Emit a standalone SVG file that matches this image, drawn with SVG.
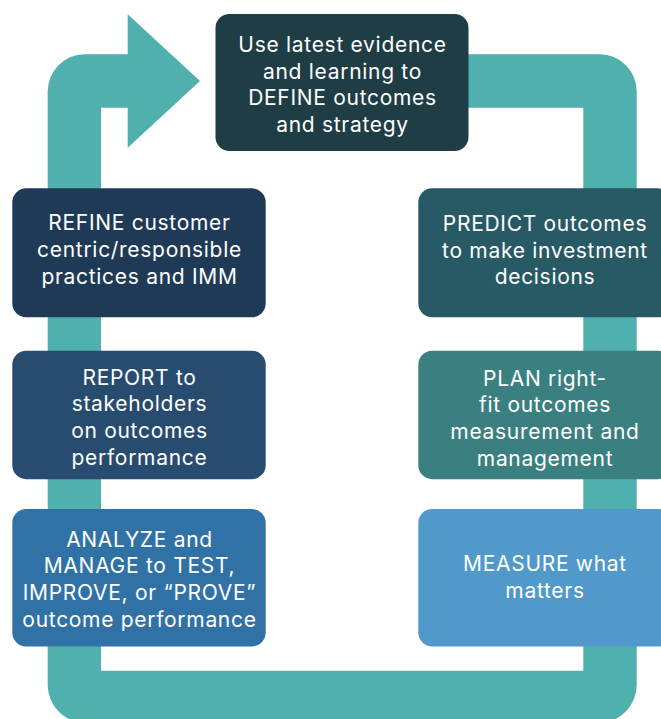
<svg xmlns="http://www.w3.org/2000/svg" width="661" height="719" viewBox="0 0 661 719">
  <style>
    .box { stroke: none; }
    .lbl { font-family: Inter, "Noto Sans", "Liberation Sans", sans-serif; font-size: 21px; letter-spacing: 0.7px; fill: #ffffff; text-anchor: middle; }
  </style>
  <rect width="661" height="719" fill="#ffffff"/>

  <!-- cycle band with the arrow head at the top left -->
  <g id="connectors">
    <path fill="#4FB0AE" d="M 127.7 107.7 L 127.7 147.7 L 200 81 L 127.7 14.3 L 127.7 54.3 H 84.7 A 37 37 0 0 0 47.7 91.3 V 685 A 38 38 0 0 0 85.7 723 H 598.7 A 38 38 0 0 0 636.7 685 V 91.3 A 37 37 0 0 0 599.7 54.3 H 300 V 107.7 H 583.3 V 670.7 H 101 V 107.7 Z"/>
  </g>

  <g id="define">
    <rect class="box" x="215.5" y="14" width="253" height="137" rx="14" fill="#1E3D45"/>
    <text class="lbl" x="342.5" y="52">Use latest evidence</text>
    <text class="lbl" x="342.5" y="78.5">and learning to</text>
    <text class="lbl" x="342.5" y="105.3">DEFINE outcomes</text>
    <text class="lbl" x="342.5" y="132">and strategy</text>
  </g>

  <g id="refine">
    <rect class="box" x="12.3" y="188.3" width="253.4" height="129" rx="14" fill="#1F3A56"/>
    <text class="lbl" x="139.5" y="230">REFINE customer</text>
    <text class="lbl" x="139.5" y="257">centric/responsible</text>
    <text class="lbl" x="139.5" y="284">practices and IMM</text>
  </g>

  <g id="report">
    <rect class="box" x="12.3" y="350.7" width="253.4" height="128.5" rx="14" fill="#284C70"/>
    <text class="lbl" x="139.5" y="384.5">REPORT to</text>
    <text class="lbl" x="139.5" y="411">stakeholders</text>
    <text class="lbl" x="139.5" y="438">on outcomes</text>
    <text class="lbl" x="139.5" y="465">performance</text>
  </g>

  <g id="analyze">
    <rect class="box" x="12.3" y="509" width="253.4" height="137.5" rx="14" fill="#3172A6"/>
    <text class="lbl" x="139.5" y="546.7">ANALYZE and</text>
    <text class="lbl" x="139.5" y="573.3">MANAGE to TEST,</text>
    <text class="lbl" x="139.5" y="600.3">IMPROVE, or “PROVE”</text>
    <text class="lbl" x="139.5" y="627">outcome performance</text>
  </g>

  <g id="predict">
    <rect class="box" x="418.3" y="188.3" width="253.4" height="129" rx="14" fill="#285A65"/>
    <text class="lbl" x="545" y="231">PREDICT outcomes</text>
    <text class="lbl" x="545" y="257.5">to make investment</text>
    <text class="lbl" x="545" y="284">decisions</text>
  </g>

  <g id="plan">
    <rect class="box" x="418.3" y="350.7" width="253.4" height="128.5" rx="14" fill="#3B8080"/>
    <text class="lbl" x="545" y="385.7">PLAN right-</text>
    <text class="lbl" x="545" y="412.3">fit outcomes</text>
    <text class="lbl" x="545" y="439">measurement and</text>
    <text class="lbl" x="545" y="466">management</text>
  </g>

  <g id="measure">
    <rect class="box" x="418.3" y="509" width="253.4" height="137.5" rx="14" fill="#5199CB"/>
    <text class="lbl" x="545" y="571">MEASURE what</text>
    <text class="lbl" x="545" y="598">matters</text>
  </g>
</svg>
